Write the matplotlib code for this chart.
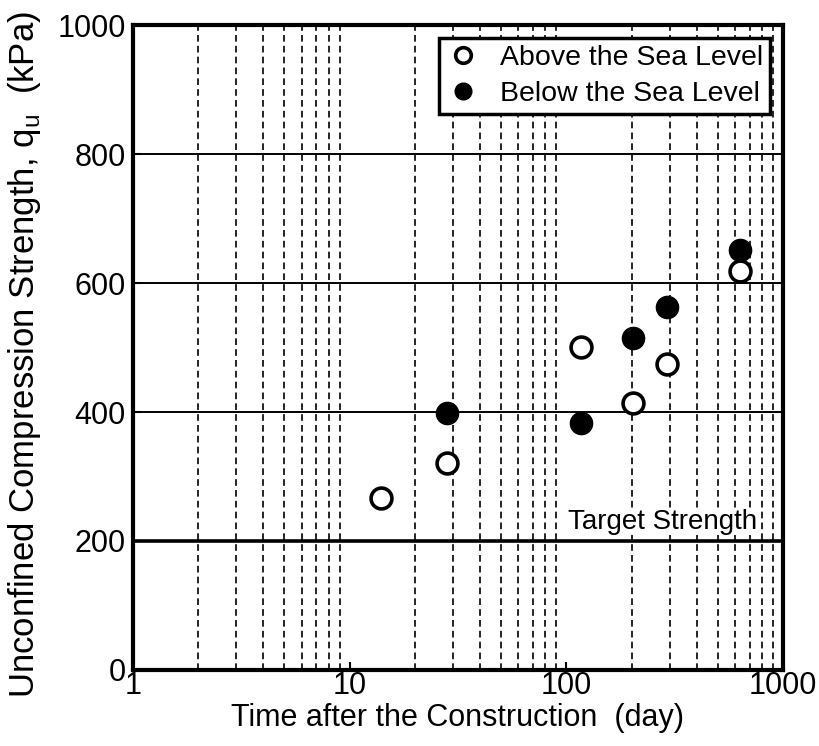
import matplotlib
matplotlib.use("Agg")
import matplotlib.pyplot as plt
from matplotlib.ticker import FixedLocator, NullFormatter

plt.rcParams['font.family'] = ['Liberation Sans', 'DejaVu Sans']

# curing time (day) and unconfined compression strength qu (kPa)
days_above = [14, 28, 117, 204, 292, 634]
qu_above = [267, 321, 501, 414, 474, 619]
days_below = [28, 117, 204, 292, 634]
qu_below = [398, 383, 515, 563, 651]

target_strength = 200
y_ticks = [0, 200, 400, 600, 800, 1000]
x_ticks = [1, 10, 100, 1000]
x_ticklabels = ['1', '10', '100', '1000']

fig = plt.figure(figsize=(8.2, 7.46), dpi=100)
ax = fig.add_axes([0.162, 0.102, 0.793, 0.864])

ax.set_xscale('log')
ax.set_xlim(1, 1000)
ax.set_ylim(0, 1000)

# dashed vertical lines at 2..9 of each decade
minor = [k * 10 ** d for d in range(3) for k in range(2, 10)]
for xv in minor:
    ax.axvline(xv, color='black', lw=1.2, ls=(0, (4, 2.5)), zorder=1)

for yv in [400, 600, 800]:
    ax.axhline(yv, color='black', lw=1.4, zorder=1)
ax.axhline(target_strength, color='black', lw=2.6, zorder=1)
ax.text(762, target_strength + 10, 'Target Strength', ha='right', va='bottom',
        fontsize=20, zorder=2,
        bbox=dict(facecolor='white', edgecolor='none', pad=0.5))

ax.plot(days_above, qu_above, 'o', ms=15, mfc='white', mec='black', mew=2.6,
        ls='none', zorder=3, label='Above the Sea Level')
ax.plot(days_below, qu_below, 'o', ms=16, mfc='black', mec='black',
        ls='none', zorder=3, label='Below the Sea Level')

ax.xaxis.set_major_locator(FixedLocator(x_ticks))
ax.set_xticklabels(x_ticklabels)
ax.xaxis.set_minor_locator(FixedLocator(minor))
ax.xaxis.set_minor_formatter(NullFormatter())
ax.set_yticks(y_ticks)

ax.tick_params(axis='both', which='major', labelsize=22, direction='in', length=6, width=1.5)
ax.tick_params(axis='x', which='major', pad=1)
ax.tick_params(axis='y', which='major', pad=5)
ax.tick_params(axis='x', which='minor', length=0)
for s in ax.spines.values():
    s.set_linewidth(3)

ax.set_xlabel('Time after the Construction  (day)', fontsize=22, va='center')
ax.xaxis.set_label_coords(0.5, -0.075)
ax.set_ylabel('Unconfined Compression Strength, q$_\\mathregular{u}$  (kPa)', fontsize=25,
              va='center', ha='center')
ax.yaxis.set_label_coords(-0.167, 0.49)

leg = ax.legend(loc='upper right', frameon=True, fancybox=False,
                borderpad=0.25, handletextpad=0.7, handlelength=1.2, labelspacing=0.35,
                borderaxespad=0.45, markerscale=0.75,
                prop={'size': 20.5})
leg.get_frame().set_edgecolor('black')
leg.get_frame().set_linewidth(2.5)
leg.get_frame().set_alpha(1)

fig.savefig('out.png', dpi=100)
